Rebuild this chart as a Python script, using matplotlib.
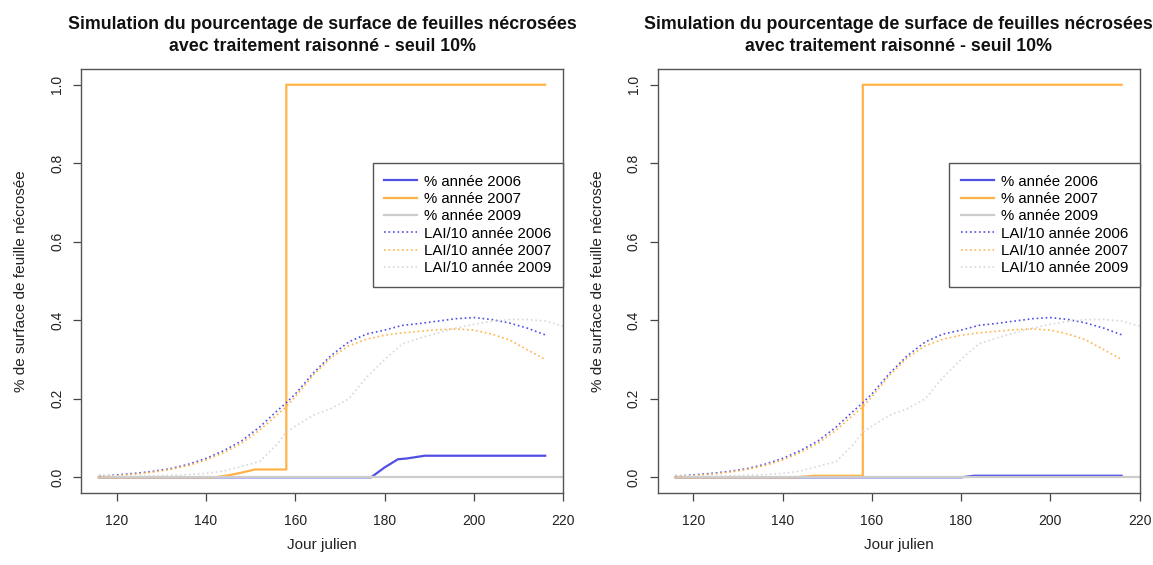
import matplotlib
matplotlib.use("Agg")
import matplotlib.pyplot as plt

plt.rcParams['font.family'] = ['Liberation Sans', 'DejaVu Sans']

# jours juliens des simulations LAI
jours = [116, 120, 124, 128, 132, 136, 140, 144, 148, 152, 156, 158, 160, 164,
         168, 172, 176, 180, 184, 188, 192, 196, 200, 204, 208, 212, 216]
lai_2006 = [0.003, 0.006, 0.010, 0.015, 0.022, 0.033, 0.048, 0.068, 0.093, 0.128,
            0.170, 0.190, 0.212, 0.265, 0.310, 0.345, 0.365, 0.375, 0.387, 0.392,
            0.398, 0.404, 0.407, 0.402, 0.393, 0.380, 0.363]
lai_2007 = [0.002, 0.004, 0.008, 0.013, 0.020, 0.030, 0.044, 0.063, 0.087, 0.120,
            0.160, 0.180, 0.205, 0.260, 0.305, 0.335, 0.352, 0.362, 0.368, 0.372,
            0.376, 0.378, 0.375, 0.365, 0.350, 0.325, 0.300]
jours_2009 = [116, 120, 124, 128, 132, 136, 140, 144, 148, 152, 156, 158, 160, 164,
              168, 172, 176, 180, 184, 188, 192, 196, 200, 204, 208, 212, 216, 220]
lai_2009 = [0.006, 0.003, 0.003, 0.004, 0.005, 0.007, 0.010, 0.016, 0.028, 0.040,
            0.085, 0.115, 0.130, 0.158, 0.175, 0.200, 0.255, 0.300, 0.340, 0.355,
            0.368, 0.380, 0.390, 0.397, 0.402, 0.402, 0.398, 0.385]

# % de surface nécrosée, panneau gauche
j06_g = [116, 177, 180, 183, 185, 189, 216]
p06_g = [0, 0, 0.025, 0.046, 0.048, 0.055, 0.055]
j07_g = [116, 142, 145, 148, 151, 158, 158, 216]
p07_g = [0, 0, 0.005, 0.012, 0.020, 0.020, 1.0, 1.0]
# panneau droit
j06_d = [116, 180, 183, 216]
p06_d = [0, 0, 0.004, 0.004]
j07_d = [116, 143, 147, 158, 158, 216]
p07_d = [0, 0, 0.004, 0.004, 1.0, 1.0]
j09 = [116, 220]
p09 = [0, 0]

BLEU = '#5050e4'
ORANGE = '#ffb347'
GRIS = '#cccccc'
GRIS_CLAIR = '#d8d8d8'

titre = ("Simulation du pourcentage de surface de feuilles nécrosées\n"
         "avec traitement raisonné - seuil 10%")

fig = plt.figure(figsize=(11.53, 5.65), dpi=100)
panneaux = [(0.0703, j06_g, p06_g, j07_g, p07_g),
            (0.5703, j06_d, p06_d, j07_d, p07_d)]

for x0, j06, p06, j07, p07 in panneaux:
    ax = fig.add_axes([x0, 0.1274, 0.418, 0.7504])
    ax.plot(j06, p06, color=BLEU, lw=1.6, label='% année 2006')
    ax.plot(j07, p07, color=ORANGE, lw=1.6, label='% année 2007')
    ax.plot(j09, p09, color=GRIS, lw=1.6, label='% année 2009')
    ax.plot(jours, lai_2006, color=BLEU, lw=1.2, dashes=(1, 1.7), label='LAI/10 année 2006')
    ax.plot(jours, lai_2007, color=ORANGE, lw=1.2, dashes=(1, 1.7), label='LAI/10 année 2007')
    ax.plot(jours_2009, lai_2009, color=GRIS_CLAIR, lw=1.2, dashes=(1, 1.7), label='LAI/10 année 2009')

    ax.set_xlim(112, 220)
    ax.set_ylim(-0.04, 1.04)
    ax.set_xticks([120, 140, 160, 180, 200, 220])
    ax.set_yticks([0.0, 0.2, 0.4, 0.6, 0.8, 1.0])
    ax.set_yticklabels(['0.0', '0.2', '0.4', '0.6', '0.8', '1.0'], rotation=90, va='center')
    ax.tick_params(direction='out', length=6, width=0.9, color='#444444',
                   labelsize=10, labelcolor='#222222')
    ax.tick_params(axis='x', pad=9)
    ax.tick_params(axis='y', pad=6)
    for s in ax.spines.values():
        s.set_color('#555555')
        s.set_linewidth(1.0)
    ax.set_xlabel('Jour julien', fontsize=11, color='#222222', labelpad=7)
    ax.set_ylabel('% de surface de feuille nécrosée', fontsize=11, color='#222222', labelpad=16)
    ax.set_title(titre, fontsize=12.8, fontweight='bold', color='#111111', pad=13, linespacing=1.4)

    leg = ax.legend(loc='upper right', bbox_to_anchor=(1.0, 0.778), borderaxespad=0,
                    fontsize=10.8, handlelength=2.2, labelspacing=0.22, handletextpad=0.45,
                    borderpad=0.77, fancybox=False, framealpha=1)
    leg.get_frame().set_edgecolor('#555555')
    leg.get_frame().set_linewidth(1.0)

fig.savefig('out.png', dpi=100)
